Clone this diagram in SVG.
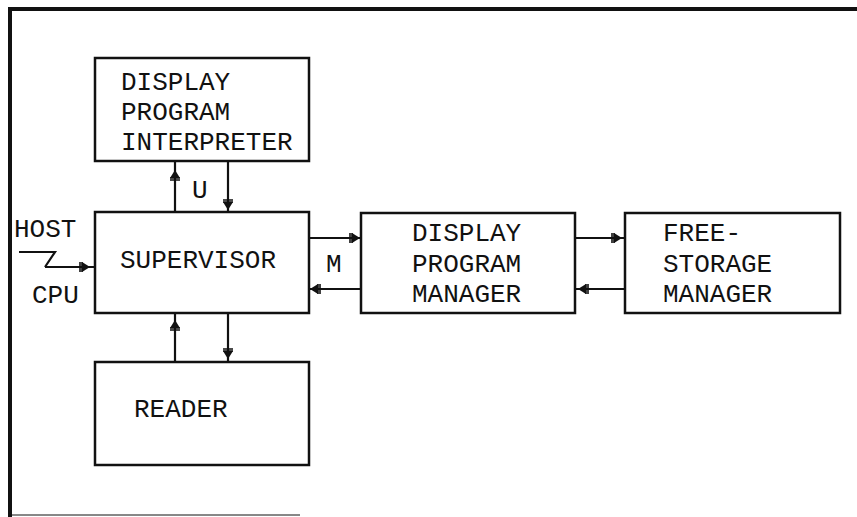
<svg xmlns="http://www.w3.org/2000/svg" width="857" height="517" viewBox="0 0 857 517">
<style>
.box{fill:none;stroke:#111;stroke-width:2.5}
.lbl{font-family:"Liberation Mono","DejaVu Sans Mono",monospace;font-size:26px;fill:#111}
.con{fill:none;stroke:#111;stroke-width:2.2;marker-mid:url(#arr)}
.plain{fill:none;stroke:#111;stroke-width:2.2}
.frame{stroke:#111;fill:none}
</style>
<defs>
<marker id="arr" viewBox="-4 -6 14 12" refX="6" refY="0" markerWidth="14" markerHeight="12" markerUnits="userSpaceOnUse" orient="auto">
<path d="M-2,-5 L-2,5 M0,-5 L0,5" stroke="#111" stroke-width="1.6"/>
<path d="M0,-5 L8,0 L0,5 Z" fill="#111"/>
</marker>
</defs>
<rect width="857" height="517" fill="#fff"/>
<g id="frame">
<line class="frame" x1="8" y1="9" x2="857" y2="9" stroke-width="4"/>
<line class="frame" x1="10" y1="7" x2="10" y2="517" stroke-width="4"/>
<line class="frame" x1="10" y1="515" x2="300" y2="515" stroke-width="1" stroke="#bbb"/>
</g>
<g id="interpreter">
<rect class="box" x="95" y="58" width="214" height="103"/>
<text class="lbl" x="121" y="90">DISPLAY</text>
<text class="lbl" x="121" y="120">PROGRAM</text>
<text class="lbl" x="121" y="150">INTERPRETER</text>
</g>
<g id="supervisor">
<rect class="box" x="95" y="212" width="214" height="101"/>
<text class="lbl" x="120" y="268">SUPERVISOR</text>
</g>
<g id="reader">
<rect class="box" x="95" y="362" width="214" height="103"/>
<text class="lbl" x="134" y="417">READER</text>
</g>
<g id="manager">
<rect class="box" x="361" y="213" width="214" height="100"/>
<text class="lbl" x="412" y="241">DISPLAY</text>
<text class="lbl" x="412" y="272">PROGRAM</text>
<text class="lbl" x="412" y="302">MANAGER</text>
</g>
<g id="storage">
<rect class="box" x="625" y="213" width="215" height="100"/>
<text class="lbl" x="663" y="241">FREE-</text>
<text class="lbl" x="663" y="272">STORAGE</text>
<text class="lbl" x="663" y="302">MANAGER</text>
</g>
<g id="host">
<text class="lbl" x="14" y="237">HOST</text>
<text class="lbl" x="32" y="303">CPU</text>
</g>
<g id="connectors">
<path class="con" d="M175,212 L175,172 L175,161"/>
<path class="con" d="M228,161 L228,208 L228,212"/>
<path class="con" d="M309,238 L358,238 L361,238"/>
<path class="con" d="M361,289 L312,289 L309,289"/>
<path class="con" d="M575,238 L620,238 L625,238"/>
<path class="con" d="M625,289 L580,289 L575,289"/>
<path class="con" d="M175,362 L175,322 L175,313"/>
<path class="con" d="M228,313 L228,357 L228,362"/>
<path class="plain" d="M19,252 L55,252 L45,267"/>
<path class="con" d="M45,267 L88,267 L95,267"/>
<text class="lbl" x="192" y="198">U</text>
<text class="lbl" x="326" y="272">M</text>
</g>
</svg>
